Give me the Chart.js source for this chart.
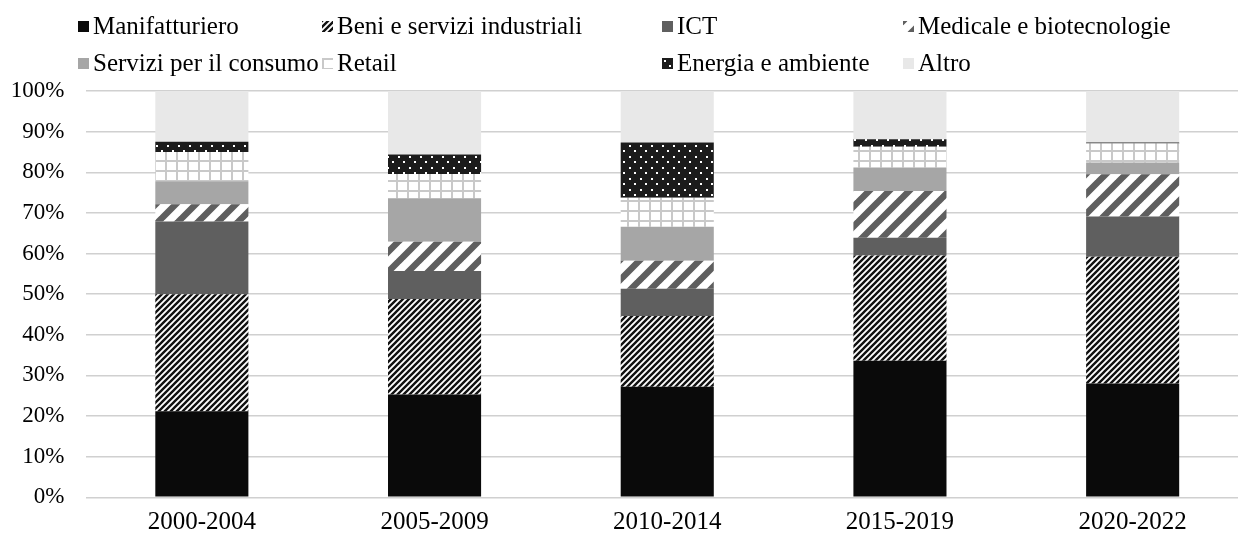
<!DOCTYPE html>
<html>
<head>
<meta charset="utf-8">
<script src="https://cdn.jsdelivr.net/npm/chart.js@4.4.1/dist/chart.umd.min.js"></script>
<style>
  html, body { margin: 0; padding: 0; background: #fff; overflow: hidden; }
  #wrap { position: relative; width: 1238px; height: 536px; overflow: hidden; }
  #myChart { position: absolute; left: 0; top: 0; }
  .leg { position: absolute; display: flex; align-items: center; font-family: "Liberation Serif", "Times New Roman", serif; font-size: 25px; color: #000; white-space: nowrap; transform: translateY(-50%); }
  .leg canvas { margin-right: 4px; }
</style>
</head>
<body>
<div id="wrap">
  <canvas id="myChart" width="1249" height="536"></canvas>
  <div id="legend"></div>
</div>
<script>
// periods on the x axis
var periods = ['2000-2004', '2005-2009', '2010-2014', '2015-2019', '2020-2022'];

// shares (%), bottom to top
var manifatturiero = [21.2, 25.3, 27.2, 33.6, 28.0];
var beniServizi    = [28.8, 23.5, 17.4, 25.9, 31.2];
var ict            = [17.9, 6.9, 6.7, 4.4, 9.9];
var medicale       = [4.2, 7.2, 6.9, 11.5, 10.4];
var serviziConsumo = [5.7, 10.7, 8.4, 5.8, 2.9];
var retail         = [7.2, 6.0, 7.1, 5.1, 4.7];
var energia        = [2.5, 4.8, 13.6, 1.8, 0.2];
var altro          = [12.5, 15.6, 12.7, 11.9, 12.7];

var yTicks = [0, 10, 20, 30, 40, 50, 60, 70, 80, 90, 100];

// small helpers to build the fill patterns
function tile(w, h, draw) {
  var c = document.createElement('canvas');
  c.width = w; c.height = h;
  var g = c.getContext('2d');
  draw(g, w, h);
  return c;
}

function stripes(p, lw, fg, bg) {
  return tile(p, p, function (g) {
    g.fillStyle = bg; g.fillRect(0, 0, p, p);
    g.strokeStyle = fg; g.lineWidth = lw;
    g.beginPath();
    g.moveTo(0, p); g.lineTo(p, 0);
    g.moveTo(-2, 2); g.lineTo(2, -2);
    g.moveTo(p - 2, p + 2); g.lineTo(p + 2, p - 2);
    g.stroke();
  });
}

var gridTile = tile(11, 10, function (g, w, h) {
  g.fillStyle = '#fff'; g.fillRect(0, 0, w, h);
  g.fillStyle = '#c9c9c9';
  g.fillRect(0, 0, 2, h);
  g.fillRect(0, 0, w, 2);
});

var dotTile = tile(11, 11, function (g, w, h) {
  g.fillStyle = '#1c1c1c'; g.fillRect(0, 0, w, h);
  g.fillStyle = '#fff';
  g.fillRect(2, 2, 2, 2);
  g.fillRect(7, 7, 2, 2);
});

var denseTile = stripes(6, 2.4, '#111', '#fff');
var wideTile = stripes(20, 6.5, '#5f5f5f', '#fff');

var ctx = document.getElementById('myChart');
var c2d = ctx.getContext('2d');

var fills = [
  '#0a0a0a',
  c2d.createPattern(denseTile, 'repeat'),
  '#5f5f5f',
  c2d.createPattern(wideTile, 'repeat'),
  '#a6a6a6',
  c2d.createPattern(gridTile, 'repeat'),
  c2d.createPattern(dotTile, 'repeat'),
  '#e8e8e8'
];
var tiles = [null, denseTile, null, wideTile, null, gridTile, dotTile, null];

var names = ['Manifatturiero', 'Beni e servizi industriali', 'ICT', 'Medicale e biotecnologie',
             'Servizi per il consumo', 'Retail', 'Energia e ambiente', 'Altro'];
var series = [manifatturiero, beniServizi, ict, medicale, serviziConsumo, retail, energia, altro];

var datasets = series.map(function (s, i) {
  return {
    label: names[i],
    data: s,
    backgroundColor: fills[i],
    borderWidth: 0,
    barPercentage: 0.4,
    categoryPercentage: 1.0
  };
});

var myChart = new Chart(ctx, {
  type: 'bar',
  data: { labels: periods, datasets: datasets },
  options: {
    responsive: false,
    animation: false,
    layout: { padding: { top: 91, left: 0, right: 0, bottom: 0 } },
    plugins: {
      legend: { display: false },
      tooltip: { enabled: false }
    },
    scales: {
      x: {
        stacked: true,
        grid: { display: false, drawTicks: false },
        border: { display: false },
        afterFit: function (scale) { scale.height = 38.7; },
        ticks: {
          color: '#000',
          padding: 13,
          font: { family: 'Liberation Serif', size: 25, lineHeight: 1 }
        }
      },
      y: {
        stacked: true,
        min: 0,
        max: 100,
        afterBuildTicks: function (scale) {
          scale.ticks = yTicks.map(function (v) { return { value: v }; });
        },
        afterFit: function (scale) { scale.width = 85.5; },
        grid: { color: '#d0d0d0', lineWidth: 1.5, drawTicks: false },
        border: { display: false },
        ticks: {
          color: '#000',
          padding: 21,
          font: { family: 'Liberation Serif', size: 23 },
          callback: function (v) { return v + '%'; }
        }
      }
    }
  }
});

// legend in four columns, two rows, like the original
var colX = [78, 322, 662, 903];
var rowY = [26, 63];
var legend = document.getElementById('legend');
datasets.forEach(function (d, i) {
  var item = document.createElement('div');
  item.className = 'leg';
  item.style.left = colX[i % 4] + 'px';
  item.style.top = rowY[Math.floor(i / 4)] + 'px';
  var sw = document.createElement('canvas');
  sw.width = 11; sw.height = 11;
  var g = sw.getContext('2d');
  g.fillStyle = tiles[i] ? g.createPattern(tiles[i], 'repeat') : d.backgroundColor;
  g.fillRect(0, 0, 11, 11);
  item.appendChild(sw);
  item.appendChild(document.createTextNode(d.label));
  legend.appendChild(item);
});
</script>
</body>
</html>
